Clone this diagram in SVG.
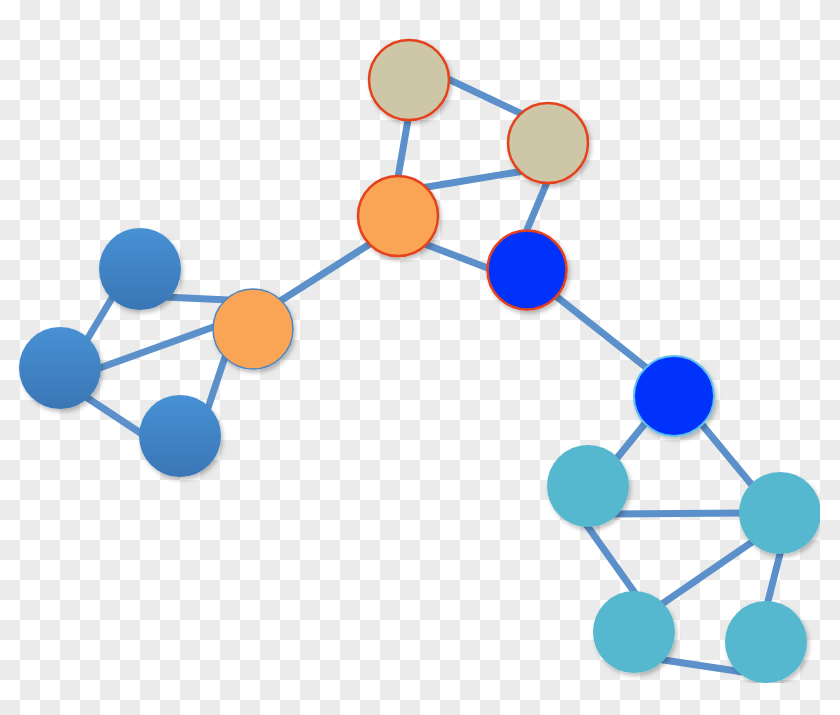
<svg xmlns="http://www.w3.org/2000/svg" width="840" height="715" viewBox="0 0 840 715">
<style>
.edge{stroke:#5B90CA;stroke-width:7;stroke-linecap:butt;fill:none}
.tan{fill:#CEC7A7;stroke:#E5421E;stroke-width:2.5}
.orc{fill:#F9A555;stroke:#E5421E;stroke-width:2.5}
.orl{fill:#F9A555;stroke:#4F86C0;stroke-width:1.5}
.bc{fill:#0331FB;stroke:#E5421E;stroke-width:2.5}
.bb{fill:#0331FB;stroke:#5CC0EE;stroke-width:2}
.steel{fill:url(#steelGrad)}
.teal{fill:#56B8CF}
.node{filter:url(#sh)}
</style>
<defs>
<pattern id="checker" width="40" height="40" patternUnits="userSpaceOnUse">
<rect width="40" height="40" fill="#FFFFFF"/>
<rect x="20" y="0" width="20" height="20" fill="#EBEBEB"/>
<rect x="0" y="20" width="20" height="20" fill="#EBEBEB"/>
</pattern>
<linearGradient id="steelGrad" x1="0" y1="0" x2="0" y2="1">
<stop offset="0" stop-color="#4791D4"/>
<stop offset="1" stop-color="#3A76B5"/>
</linearGradient>
<filter id="sh" x="-20%" y="-20%" width="150%" height="150%">
<feDropShadow dx="2" dy="3" stdDeviation="2" flood-color="#000" flood-opacity="0.25"/>
</filter>
<clipPath id="area"><rect x="0" y="0" width="820" height="683"/></clipPath>
</defs>
<rect width="840" height="715" fill="url(#checker)"/>
<g clip-path="url(#area)">
<g id="connectors">
<line class="edge" x1="444.6" y1="77.4" x2="525.4" y2="115.6"/>
<line class="edge" x1="409" y1="114" x2="397" y2="183"/>
<line class="edge" x1="524" y1="171" x2="421" y2="188"/>
<line class="edge" x1="549" y1="177.5" x2="524.6" y2="235.5"/>
<line class="edge" x1="422" y1="243" x2="493" y2="270"/>
<line class="edge" x1="373" y1="242" x2="277" y2="303"/>
<line class="edge" x1="552" y1="293" x2="648" y2="369"/>
<line class="edge" x1="164" y1="297" x2="229" y2="300"/>
<line class="edge" x1="115" y1="293" x2="85" y2="343"/>
<line class="edge" x1="94" y1="370" x2="219" y2="325"/>
<line class="edge" x1="83" y1="395" x2="145" y2="436"/>
<line class="edge" x1="227" y1="351" x2="206" y2="414"/>
<line class="edge" x1="647" y1="421" x2="613" y2="463"/>
<line class="edge" x1="699" y1="421" x2="756" y2="490"/>
<line class="edge" x1="611" y1="514" x2="746" y2="513"/>
<line class="edge" x1="584.5" y1="522" x2="638.5" y2="598"/>
<line class="edge" x1="757" y1="538.6" x2="657" y2="607.4"/>
<line class="edge" x1="781.5" y1="548" x2="765.5" y2="611"/>
<line class="edge" x1="657" y1="659" x2="743" y2="672"/>
</g>
<g id="n-tan-top" class="node"><circle class="tan" cx="409" cy="80" r="40"/></g>
<g id="n-tan-right" class="node"><circle class="tan" cx="548" cy="143" r="40"/></g>
<g id="n-orange-center" class="node"><circle class="orc" cx="398" cy="216" r="40"/></g>
<g id="n-blue-center" class="node"><circle class="bc" cx="527" cy="270" r="39.5"/></g>
<g id="n-orange-left" class="node"><circle class="orl" cx="253" cy="329" r="40"/></g>
<g id="n-steel-top" class="node"><circle class="steel" cx="140" cy="269" r="41"/></g>
<g id="n-steel-left" class="node"><circle class="steel" cx="60" cy="368" r="41"/></g>
<g id="n-steel-bottom" class="node"><circle class="steel" cx="180" cy="436" r="41"/></g>
<g id="n-blue-bottom" class="node"><circle class="bb" cx="674" cy="396" r="40"/></g>
<g id="n-teal-1" class="node"><circle class="teal" cx="588" cy="486" r="41"/></g>
<g id="n-teal-2" class="node"><circle class="teal" cx="780" cy="513" r="41"/></g>
<g id="n-teal-3" class="node"><circle class="teal" cx="634" cy="632" r="41"/></g>
<g id="n-teal-4" class="node"><circle class="teal" cx="766" cy="642" r="41"/></g>
</g>
</svg>
